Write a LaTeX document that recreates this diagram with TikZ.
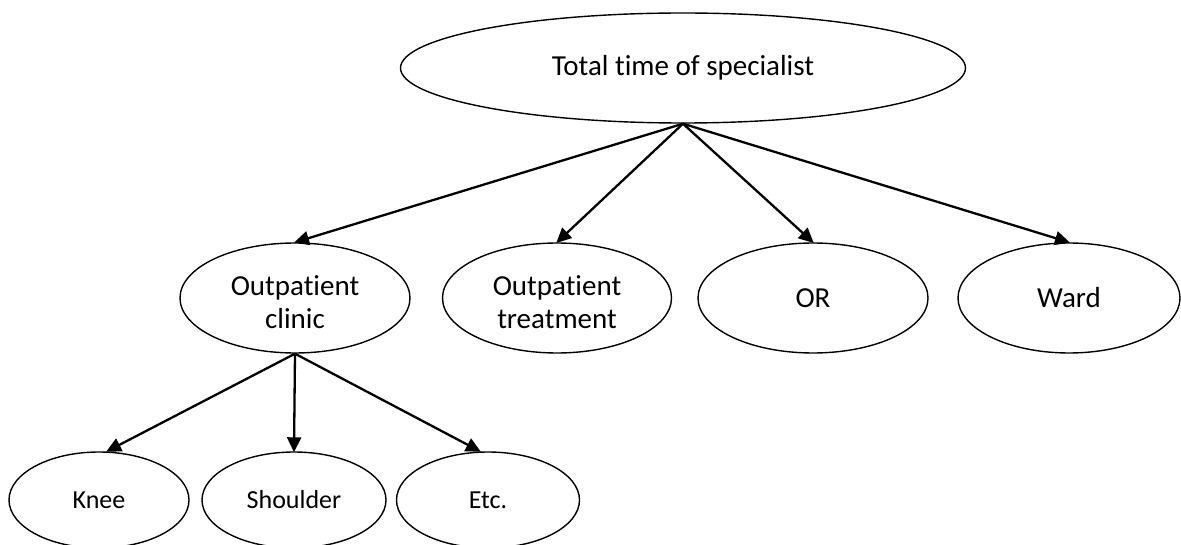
\documentclass[tikz,border=0pt]{standalone}
\usepackage{fontspec}
\setmainfont{Carlito}[Ligatures=NoCommon]
\usetikzlibrary{shapes.geometric,arrows.meta}

% two centred lines, set a little below the middle of the oval
\newcommand{\twolines}[2]{\raisebox{-7pt}[\height][\depth]{\begin{tabular}{@{}c@{}}#1\\[-1pt]#2\end{tabular}}}

\tikzset{
  oval/.style={ellipse, draw=black, line width=1.4pt, inner sep=0pt,
    align=center, font=\fontsize{29}{34}\selectfont},
  leaf/.style={oval, font=\fontsize{26}{31}\selectfont},
  link/.style={draw=black, line width=2.3pt,
    -{Triangle[length=15pt,width=14pt]}, shorten >=-1pt}
}

\begin{document}
\begin{tikzpicture}[x=1pt, y=-1pt]
  \useasboundingbox (0,0) rectangle (1181,545);
  \clip (0,0) rectangle (1181,545);

  % root
  \node[oval, minimum width=565pt, minimum height=110pt] (total) at (683,68)
    {Total time of specialist};

  % second level
  \node[oval, minimum width=230pt, minimum height=110pt] (clinic) at (295,298)
    {\twolines{Outpatient}{clinic}};
  \node[oval, minimum width=229pt, minimum height=110pt] (treat) at (557,298)
    {\twolines{Outpatient}{treatment}};
  \node[oval, minimum width=230pt, minimum height=110pt] (or) at (813,298)
    {OR};
  \node[oval, minimum width=222pt, minimum height=110pt] (ward) at (1069,298)
    {Ward};

  % third level
  \node[leaf, minimum width=180pt, minimum height=96pt] (knee) at (99,500)
    {Knee};
  \node[leaf, minimum width=184pt, minimum height=96pt] (shoulder) at (294,500)
    {Shoulder};
  \node[leaf, minimum width=183pt, minimum height=96pt] (etc) at (488,500)
    {Etc.};

  % connectors
  \draw[link] (total.south) -- (clinic.north);
  \draw[link] (total.south) -- (treat.north);
  \draw[link] (total.south) -- (or.north);
  \draw[link] (total.south) -- (ward.north);

  \draw[link] (clinic.south) -- ([xshift=8pt]knee.north);
  \draw[link] (clinic.south) -- (shoulder.north);
  \draw[link] (clinic.south) -- ([xshift=-8pt]etc.north);
\end{tikzpicture}
\end{document}
